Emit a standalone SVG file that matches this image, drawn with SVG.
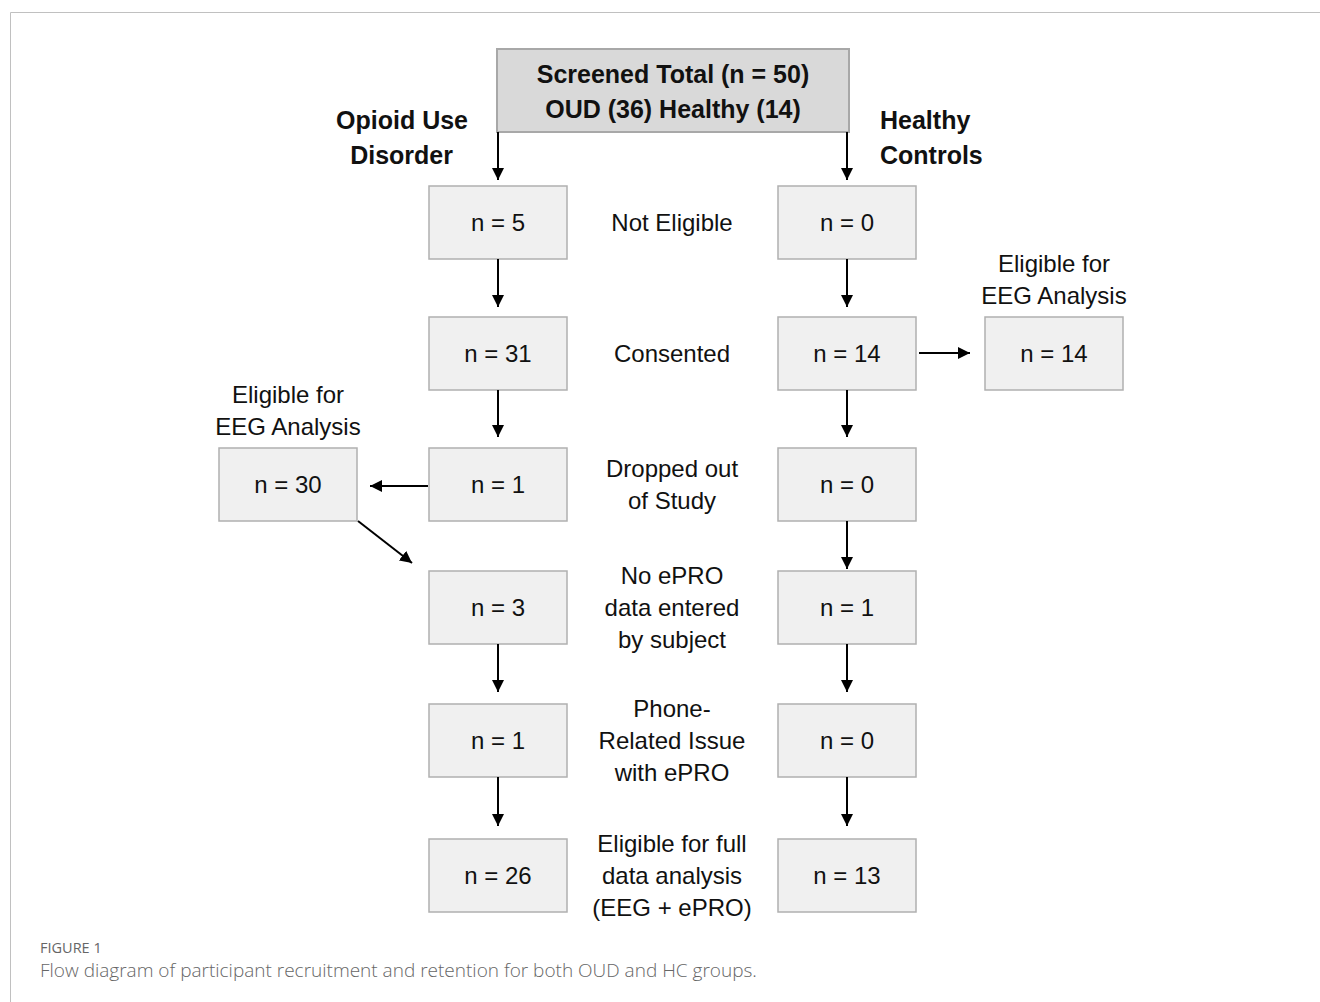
<svg xmlns="http://www.w3.org/2000/svg" width="1320" height="1002" viewBox="0 0 1320 1002">
<style>
.box{fill:#f0f0f0;stroke:#b0b0b0;stroke-width:1.5}
.top{fill:#d9d9d9;stroke:#a8a8a8;stroke-width:2}
.t{font-family:"Liberation Sans",Arial,sans-serif;font-size:24px;fill:#111;text-anchor:middle}
.b{font-family:"Liberation Sans",Arial,sans-serif;font-size:25px;font-weight:bold;fill:#111}
.c{stroke:#000;stroke-width:2;fill:none;marker-end:url(#ah)}
</style>
<defs>
<marker id="ah" viewBox="0 0 10 10" refX="10" refY="5" markerWidth="6" markerHeight="6" orient="auto" markerUnits="strokeWidth">
<path d="M0,0 L10,5 L0,10 z" fill="#000"/>
</marker>
</defs>
<rect width="1320" height="1002" fill="#fff"/>
<path d="M10.5,1002 V12.5 H1320" fill="none" stroke="#c0c0c0" stroke-width="1"/>

<g id="screened">
<rect class="top" x="497" y="49" width="352" height="83"/>
<text class="b" x="673" y="83" text-anchor="middle">Screened Total (n = 50)</text>
<text class="b" x="673" y="118" text-anchor="middle">OUD (36) Healthy (14)</text>
</g>
<g id="label-oud">
<text class="b" x="468" y="129" text-anchor="end">Opioid Use</text>
<text class="b" x="453" y="164" text-anchor="end">Disorder</text>
</g>
<g id="label-hc">
<text class="b" x="880" y="129">Healthy</text>
<text class="b" x="880" y="164">Controls</text>
</g>

<g id="oud-noteligible"><rect class="box" x="429" y="186" width="138" height="73"/><text class="t" x="498" y="231">n = 5</text></g>
<g id="oud-consented"><rect class="box" x="429" y="317" width="138" height="73"/><text class="t" x="498" y="362">n = 31</text></g>
<g id="oud-dropped"><rect class="box" x="429" y="448" width="138" height="73"/><text class="t" x="498" y="493">n = 1</text></g>
<g id="oud-noepro"><rect class="box" x="429" y="571" width="138" height="73"/><text class="t" x="498" y="616">n = 3</text></g>
<g id="oud-phone"><rect class="box" x="429" y="704" width="138" height="73"/><text class="t" x="498" y="749">n = 1</text></g>
<g id="oud-full"><rect class="box" x="429" y="839" width="138" height="73"/><text class="t" x="498" y="884">n = 26</text></g>

<g id="hc-noteligible"><rect class="box" x="778" y="186" width="138" height="73"/><text class="t" x="847" y="231">n = 0</text></g>
<g id="hc-consented"><rect class="box" x="778" y="317" width="138" height="73"/><text class="t" x="847" y="362">n = 14</text></g>
<g id="hc-dropped"><rect class="box" x="778" y="448" width="138" height="73"/><text class="t" x="847" y="493">n = 0</text></g>
<g id="hc-noepro"><rect class="box" x="778" y="571" width="138" height="73"/><text class="t" x="847" y="616">n = 1</text></g>
<g id="hc-phone"><rect class="box" x="778" y="704" width="138" height="73"/><text class="t" x="847" y="749">n = 0</text></g>
<g id="hc-full"><rect class="box" x="778" y="839" width="138" height="73"/><text class="t" x="847" y="884">n = 13</text></g>

<g id="hc-eeg">
<text class="t" x="1054" y="272">Eligible for</text>
<text class="t" x="1054" y="304">EEG Analysis</text>
<rect class="box" x="985" y="317" width="138" height="73"/><text class="t" x="1054" y="362">n = 14</text>
</g>
<g id="oud-eeg">
<text class="t" x="288" y="403">Eligible for</text>
<text class="t" x="288" y="435">EEG Analysis</text>
<rect class="box" x="219" y="448" width="138" height="73"/><text class="t" x="288" y="493">n = 30</text>
</g>

<g id="stage-labels">
<text class="t" x="672" y="231">Not Eligible</text>
<text class="t" x="672" y="362">Consented</text>
<text class="t" x="672" y="477">Dropped out</text>
<text class="t" x="672" y="509">of Study</text>
<text class="t" x="672" y="584">No ePRO</text>
<text class="t" x="672" y="616">data entered</text>
<text class="t" x="672" y="648">by subject</text>
<text class="t" x="672" y="717">Phone-</text>
<text class="t" x="672" y="749">Related Issue</text>
<text class="t" x="672" y="781">with ePRO</text>
<text class="t" x="672" y="852">Eligible for full</text>
<text class="t" x="672" y="884">data analysis</text>
<text class="t" x="672" y="916">(EEG + ePRO)</text>
</g>

<g id="connectors">
<line class="c" x1="498" y1="132" x2="498" y2="180"/>
<line class="c" x1="847" y1="132" x2="847" y2="180"/>
<line class="c" x1="498" y1="259" x2="498" y2="307"/>
<line class="c" x1="847" y1="259" x2="847" y2="307"/>
<line class="c" x1="498" y1="390" x2="498" y2="437"/>
<line class="c" x1="847" y1="390" x2="847" y2="437"/>
<line class="c" x1="847" y1="521" x2="847" y2="569"/>
<line class="c" x1="498" y1="644" x2="498" y2="692"/>
<line class="c" x1="847" y1="644" x2="847" y2="692"/>
<line class="c" x1="498" y1="777" x2="498" y2="826"/>
<line class="c" x1="847" y1="777" x2="847" y2="826"/>
<line class="c" x1="919" y1="353" x2="970" y2="353"/>
<line class="c" x1="428" y1="486" x2="370" y2="486"/>
<line class="c" x1="358" y1="521" x2="412" y2="563"/>
</g>

<g id="caption">
<text x="40" y="953" font-family="'Open Sans',sans-serif" font-size="14.5" fill="#666">FIGURE 1</text>
<text x="40" y="977" font-family="'Open Sans',sans-serif" font-size="19" font-weight="300" fill="#666">Flow diagram of participant recruitment and retention for both OUD and HC groups.</text>
</g>
</svg>
